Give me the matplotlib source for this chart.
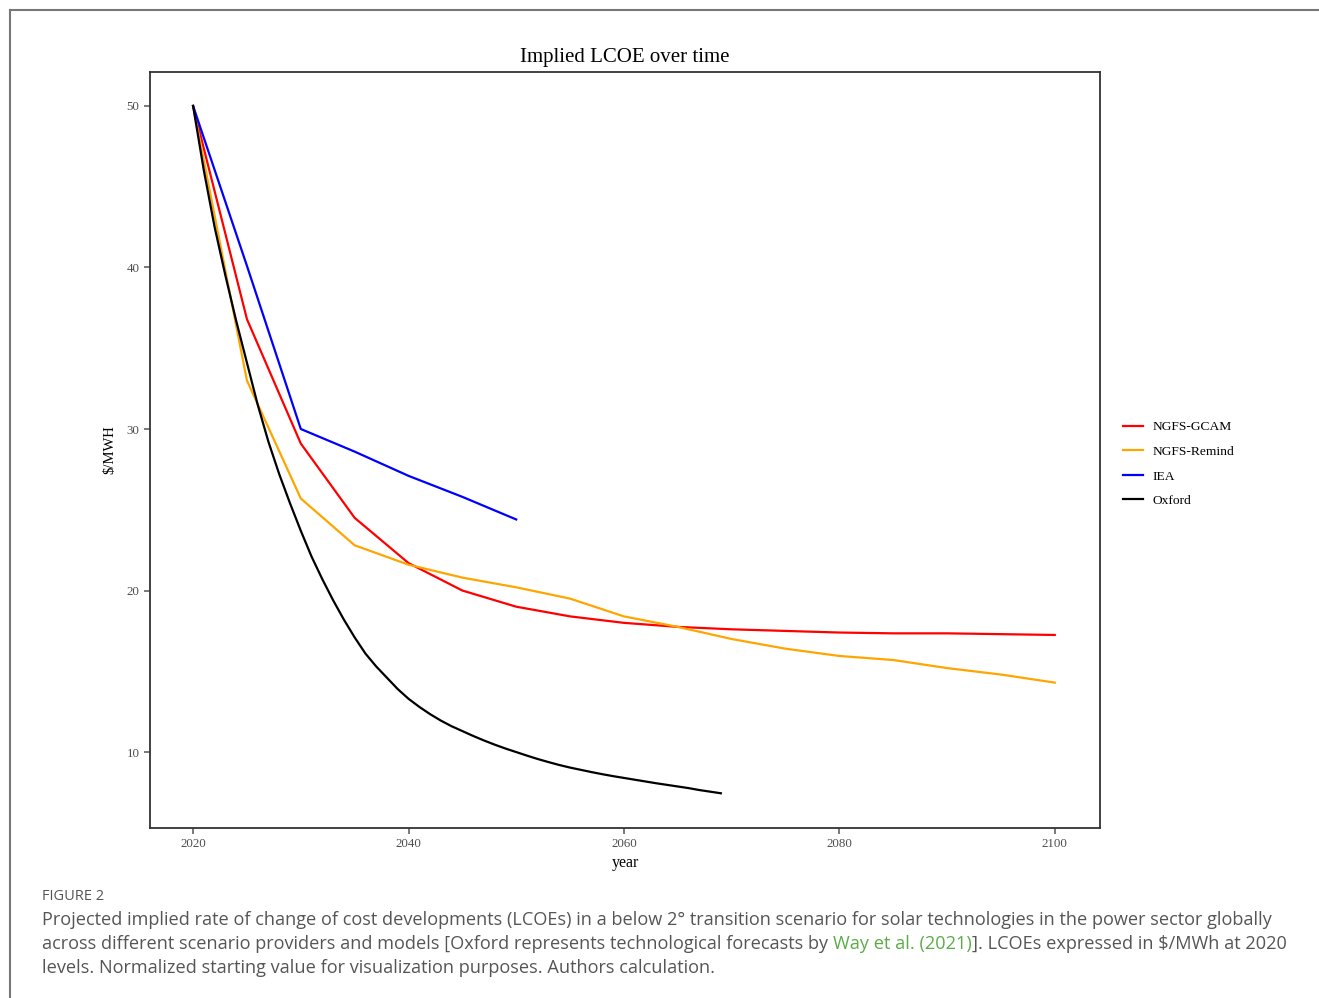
import matplotlib.pyplot as plt
from matplotlib.lines import Line2D

# NGFS scenarios, 5-year steps
ngfs_years = [2020, 2025, 2030, 2035, 2040, 2045, 2050, 2055, 2060, 2065, 2070,
              2075, 2080, 2085, 2090, 2095, 2100]
gcam = [50.0, 36.8, 29.1, 24.5, 21.7, 20.0, 19.0, 18.4, 18.0, 17.75, 17.6,
        17.5, 17.4, 17.35, 17.35, 17.3, 17.25]
remind = [50.0, 33.0, 25.7, 22.8, 21.6, 20.8, 20.2, 19.5, 18.4, 17.75, 17.0,
          16.4, 15.95, 15.7, 15.2, 14.8, 14.3]

iea_years = [2020, 2025, 2030, 2035, 2040, 2045, 2050]
iea = [50.0, 40.1, 30.0, 28.6, 27.1, 25.8, 24.4]

oxford_years = list(range(2020, 2070))
oxford = [50.0, 46.0, 42.5, 39.5, 36.7, 34.1, 31.5, 29.2, 27.2, 25.4,
          23.7, 22.1, 20.7, 19.4, 18.2, 17.1, 16.1, 15.3, 14.6, 13.9,
          13.3, 12.8, 12.35, 11.95, 11.6, 11.3, 11.0, 10.72, 10.46, 10.22,
          10.0, 9.78, 9.57, 9.38, 9.2, 9.04, 8.9, 8.76, 8.63, 8.51,
          8.4, 8.29, 8.18, 8.07, 7.97, 7.87, 7.77, 7.65, 7.55, 7.45]

labels = ["NGFS-GCAM", "NGFS-Remind", "IEA", "Oxford"]
colors = ["#ff0000", "#ffa500", "#0000ff", "#000000"]

serif = ["Liberation Serif", "DejaVu Serif"]
grey = "#4d4d4d"

fig = plt.figure(figsize=(13.19, 9.98), dpi=100)
ax = fig.add_axes([150 / 1319, 1 - 828 / 998, 950 / 1319, 756 / 998])

ax.plot(ngfs_years, gcam, color=colors[0], lw=1.6)
ax.plot(ngfs_years, remind, color=colors[1], lw=1.6)
ax.plot(iea_years, iea, color=colors[2], lw=1.6)
ax.plot(oxford_years, oxford, color=colors[3], lw=1.6)

ax.set_xlim(2016.0, 2104.2)
ax.set_ylim(5.3, 52.1)
ax.set_xticks([2020, 2040, 2060, 2080, 2100])
ax.set_yticks([10, 20, 30, 40, 50])
ax.tick_params(colors="#555555", labelcolor=grey, length=4, width=1.1,
               labelsize=9.3)
for lab in ax.get_xticklabels() + ax.get_yticklabels():
    lab.set_family(serif)
for sp in ax.spines.values():
    sp.set_color("#333333")
    sp.set_linewidth(1.3)

ax.set_title("Implied LCOE over time", family=serif, fontsize=15, pad=7)
ax.set_xlabel("year", family=serif, fontsize=11.5, labelpad=3)
ax.set_ylabel("\\$/MWH", family=serif, fontsize=10.5, labelpad=7)

handles = [Line2D([], [], color=c, lw=1.6) for c in colors]
fig.legend(handles, labels, loc="upper left", bbox_to_anchor=(1123 / 1319, 1 - 421 / 998),
           frameon=False, prop={"family": serif, "size": 9.7}, handlelength=1.45,
           handletextpad=0.74, labelspacing=0.9, borderpad=0, borderaxespad=0)

# outer figure frame (top and left edges visible)
fig.add_artist(Line2D([10 / 1319, 1], [1 - 10 / 998, 1 - 10 / 998], color="#777777", lw=1.5))
fig.add_artist(Line2D([10 / 1319, 10 / 1319], [0, 1 - 10 / 998], color="#777777", lw=1.5))

# caption
sans = ["Open Sans", "DejaVu Sans"]
cap_col = "#555555"
fig.text(42 / 1319, 1 - 896 / 998, "FIGURE 2", family=sans, fontsize=10.5,
         color=cap_col, va="center")
fig.text(42 / 1319, 1 - 920 / 998,
         "Projected implied rate of change of cost developments (LCOEs) in a below 2° transition "
         "scenario for solar technologies in the power sector globally",
         family=sans, fontsize=13.1, color=cap_col, va="center")
t1 = fig.text(42 / 1319, 1 - 944 / 998,
              "across different scenario providers and models [Oxford represents technological forecasts by ",
              family=sans, fontsize=13.1, color=cap_col, va="center")
t2 = ax.annotate("Way et al. (2021)", xy=(1, 0.5), xycoords=t1, va="center", ha="left",
                 family=sans, fontsize=13.1, color="#5aad45", annotation_clip=False)
ax.annotate("]. LCOEs expressed in $/MWh at 2020", xy=(1, 0.5), xycoords=t2, va="center",
            ha="left", family=sans, fontsize=13.1, color=cap_col, annotation_clip=False)
fig.text(42 / 1319, 1 - 968 / 998,
         "levels. Normalized starting value for visualization purposes. Authors calculation.",
         family=sans, fontsize=13.1, color=cap_col, va="center")

fig.savefig("out.png", dpi=100)
